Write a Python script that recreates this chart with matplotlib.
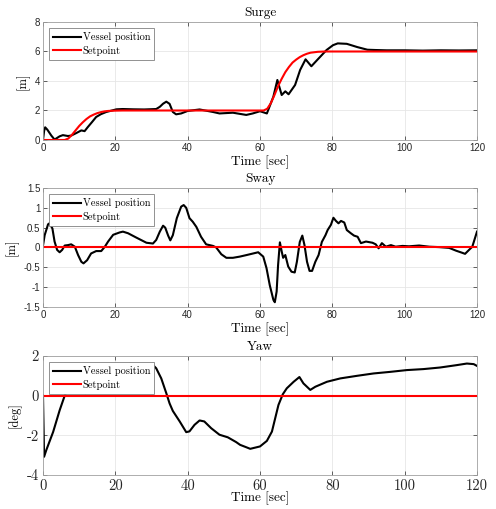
import numpy as np
import matplotlib
matplotlib.use('Agg')
import matplotlib.pyplot as plt

plt.rcParams['axes.unicode_minus'] = False

# surge
t_surge = [0, 0.3, 0.6, 1.2, 2.3, 3.2, 4.6, 5.5, 6.9, 7.8, 9.2, 10.6, 11.5, 12.4, 13.5, 14.7, 16, 17.5,
           20.3, 22, 25, 28, 31.3, 32.3, 33.2, 34.1, 35, 35.9, 36.8, 38.2, 40, 43.3, 47, 48.8, 52.5, 56.2,
           58, 60, 61.9, 63.7, 64.8, 66, 67, 67.9, 69.7, 71.1, 72.6, 74.2, 76.1, 78.4, 80.2, 81.5, 84,
           86.9, 89.7, 92, 95, 100, 105, 110, 115, 120]
x_surge = [0, 0.6, 0.86, 0.7, 0.3, 0.03, 0.25, 0.33, 0.27, 0.3, 0.47, 0.65, 0.6, 0.88, 1.2, 1.56, 1.75, 1.9,
           2.08, 2.1, 2.08, 2.07, 2.1, 2.25, 2.46, 2.6, 2.45, 1.9, 1.74, 1.8, 1.97, 2.07, 1.9, 1.8, 1.85, 1.7,
           1.8, 1.95, 1.8, 2.94, 4.07, 3.05, 3.3, 3.1, 3.73, 4.75, 5.47, 5.0, 5.5, 6.1, 6.43, 6.55, 6.52,
           6.3, 6.12, 6.1, 6.08, 6.08, 6.06, 6.08, 6.07, 6.08]
t_surge_sp = [0, 6, 7, 8, 9, 10, 11, 12, 13, 14, 15, 16, 17, 18, 20, 22, 61, 62, 63, 64, 65, 66, 67, 68,
              69, 70, 71, 72, 73, 74, 76, 78, 120]
x_surge_sp = [0, 0, 0.1, 0.35, 0.65, 0.95, 1.2, 1.42, 1.6, 1.72, 1.82, 1.89, 1.94, 1.97, 1.99, 2.0, 2.0,
              2.12, 2.5, 3.05, 3.65, 4.15, 4.6, 4.95, 5.25, 5.45, 5.62, 5.75, 5.85, 5.92, 5.98, 6.0, 6.0]

# sway
t_sway = [0, 0.46, 1.4, 1.8, 2.6, 3.2, 3.9, 4.6, 5.3, 6.0, 6.9, 7.8, 8.8, 9.7, 10.6, 11.2, 12.2, 13.3,
          14.7, 16.1, 17.1, 18, 19.4, 21.2, 22.1, 23.5, 25.8, 28.6, 30.4, 31.3, 32.3, 33.2, 33.8, 34.6,
          35.2, 35.9, 37, 38.2, 38.9, 39.6, 40.5, 41.4, 42.4, 43.7, 45.1, 47, 47.9, 49.3, 50.7, 52.5,
          54.4, 56.3, 59.5, 60.9, 61.8, 62.7, 63.7, 64.1, 64.6, 65, 65.5, 66, 66.4, 67, 67.8, 68.7,
          69.6, 70.2, 71, 71.7, 72.3, 73, 73.7, 74.4, 75.3, 76.2, 77.1, 78.1, 78.7, 79.6, 80.3, 81,
          81.7, 82.4, 83.3, 84, 85.1, 86, 87, 87.9, 89.3, 91.1, 92, 92.8, 93.7, 94.8, 96.2, 97.5, 99.4,
          101.2, 104, 106.8, 109.5, 112.3, 114.2, 115.8, 116.7, 117.8, 118.7, 120]
y_sway = [0.05, 0.31, 0.585, 0.61, 0.48, 0.15, -0.06, -0.12, -0.06, 0.05, 0.06, 0.08, 0.02, -0.19, -0.36,
          -0.4, -0.32, -0.15, -0.09, -0.09, 0.02, 0.15, 0.32, 0.38, 0.4, 0.36, 0.25, 0.12, 0.1, 0.19, 0.4,
          0.55, 0.5, 0.3, 0.18, 0.31, 0.74, 1.03, 1.07, 1.0, 0.74, 0.65, 0.52, 0.27, 0.08, 0.04, 0.0,
          -0.17, -0.26, -0.26, -0.23, -0.19, -0.12, -0.23, -0.52, -0.95, -1.32, -1.38, -1.11, -0.44, 0.13,
          -0.1, -0.26, -0.19, -0.48, -0.61, -0.63, -0.36, 0.14, 0.3, 0.06, -0.36, -0.59, -0.59, -0.36,
          -0.19, 0.14, 0.31, 0.44, 0.57, 0.75, 0.67, 0.61, 0.67, 0.63, 0.44, 0.36, 0.3, 0.27, 0.11, 0.15,
          0.12, 0.08, -0.02, 0.11, 0.02, 0.06, 0.02, 0.04, 0.03, 0.05, 0.02, 0.01, -0.01, -0.08, -0.13,
          -0.16, -0.06, 0.02, 0.4]

# yaw
t_yaw = [0, 0.3, 0.9, 2.8, 4.6, 6, 6.9, 7.8, 9, 10.9, 11.8, 12.9, 14, 16, 18, 20, 24, 27.6, 30.4, 31.3,
         32.7, 34.1, 35, 35.9, 37.8, 39.6, 40.5, 41.9, 43.3, 44.6, 46.5, 48.8, 51.1, 53.4, 54.5, 56.2,
         57.3, 60, 61.9, 63.3, 64.2, 65.1, 66.3, 67.4, 69.3, 70.9, 72, 73.9, 75.3, 78.5, 82.2, 86.8,
         91.4, 96, 100.6, 105.2, 109.8, 114.4, 117.2, 119.1, 120]
psi_yaw = [0, -3.08, -2.75, -1.83, -0.74, 0, 0.35, 0.7, 0.75, 0.35, 0.12, 0.37, 0.8, 1.2, 1.45, 1.55, 1.6,
           1.58, 1.55, 1.38, 0.87, 0.12, -0.39, -0.77, -1.3, -1.84, -1.8, -1.47, -1.25, -1.3, -1.64,
           -1.97, -2.1, -2.34, -2.48, -2.6, -2.68, -2.56, -2.28, -1.81, -1.14, -0.47, 0.07, 0.37, 0.7,
           0.94, 0.62, 0.29, 0.45, 0.7, 0.87, 1.0, 1.12, 1.2, 1.29, 1.34, 1.42, 1.54, 1.62, 1.59, 1.5]

panels = [
    ('Surge', '[m]', t_surge, x_surge, t_surge_sp, x_surge_sp, [0, 8], [0, 2, 4, 6, 8], ['0', '2', '4', '6', '8']),
    ('Sway', '[m]', t_sway, y_sway, [0, 120], [0, 0], [-1.5, 1.5], [-1.5, -1, -0.5, 0, 0.5, 1, 1.5],
     ['-1.5', '-1', '-0.5', '0', '0.5', '1', '1.5']),
    ('Yaw', '[deg]', t_yaw, psi_yaw, [0, 120], [0, 0], [-4, 2], [-4, -2, 0, 2], ['-4', '-2', '0', '2']),
]

fig = plt.figure(figsize=(4.96, 5.09), dpi=100)
W, H = 496, 509
boxes = [(22, 140), (188, 307), (356, 475)]
x0, x1 = 43, 477

for i, (title, ylab, t, v, tsp, vsp, ylim, yt, ytl) in enumerate(panels):
    top, bot = boxes[i]
    ax = fig.add_axes([x0 / W, 1 - bot / H, (x1 - x0) / W, (bot - top) / H])
    ax.plot(t, v, color='black', lw=1.5, label='Vessel position')
    ax.plot(tsp, vsp, color='red', lw=1.5, label='Setpoint')
    ax.set_xlim(0, 120)
    ax.set_ylim(ylim)
    ax.set_xticks(range(0, 121, 20))
    ax.set_yticks(yt)
    if i < 2:
        ax.set_xticklabels([str(k) for k in range(0, 121, 20)], fontsize=7, family='Liberation Sans', color='#262626')
        ax.set_yticklabels(ytl, fontsize=7, family='Liberation Sans', color='#262626')
        ax.tick_params(pad=2)
        lp = 2
    else:
        ax.set_xticklabels([str(k) for k in range(0, 121, 20)], fontsize=10.5, family='cmr10', color='#262626')
        ax.set_yticklabels(ytl, fontsize=10.5, family='cmr10', color='#262626')
        ax.tick_params(axis='x', pad=3)
        ax.tick_params(axis='y', pad=3)
        lp = -1
    ax.tick_params(direction='in', length=3, width=0.5, color='#262626', top=True, right=True)
    ax.grid(True, color='#e6e6e6', lw=0.6)
    ax.set_axisbelow(True)
    for s in ax.spines.values():
        s.set_color('#a0a0a0')
        s.set_linewidth(0.6)
    ax.set_title(title, family='cmr10', fontsize=9.5, pad=4)
    ax.set_xlabel('Time [sec]', family='cmr10', fontsize=9.5, labelpad=lp)
    ax.set_ylabel(ylab, family='cmr10', fontsize=9, labelpad=4)
    leg = ax.legend(loc='upper left', fancybox=False, prop={'family': 'cmr10', 'size': 7.5},
                    handlelength=2.6, handletextpad=0.2, borderpad=0.4, labelspacing=0.3,
                    borderaxespad=0.6, framealpha=1)
    leg.get_frame().set_edgecolor('#808080')
    leg.get_frame().set_linewidth(0.6)

fig.savefig('out.png', dpi=100)
